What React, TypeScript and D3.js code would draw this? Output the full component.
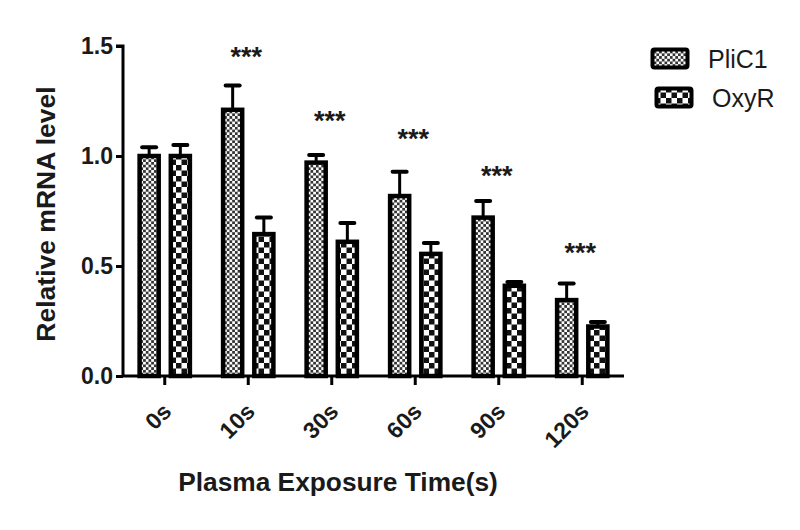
import React, { useRef, useEffect } from "react";
import * as d3 from "d3";

const times = ["0s", "10s", "30s", "60s", "90s", "120s"];
const series = ["PliC1", "OxyR"];
const pliC1 = [1.0, 1.21, 0.97, 0.818, 0.72, 0.345];
const pliC1Err = [0.04, 0.11, 0.035, 0.11, 0.075, 0.075];
const oxyR = [1.0, 0.645, 0.61, 0.555, 0.41, 0.225];
const oxyRErr = [0.05, 0.075, 0.085, 0.05, 0.017, 0.02];
const stars = [null, 1.477, 1.186, 1.105, 0.936, 0.586];
const yTicks = [0, 0.5, 1.0, 1.5];

const W = 800;
const H = 530;
const margin = { left: 123, top: 46, right: 176, bottom: 154 };
const FONT = "Liberation Sans, Arial, sans-serif";
const INK = "#1a1a1a";

export default function App() {
  const svgRef = useRef<SVGSVGElement>(null);

  useEffect(() => {
    const svg = d3.select(svgRef.current);
    svg.selectAll("*").remove();

    const x = d3
      .scaleBand()
      .domain(times)
      .range([margin.left, W - margin.right])
      .paddingInner(0.35)
      .paddingOuter(0.175);
    const xSub = d3.scaleBand().domain(series).range([0, x.bandwidth()]).paddingInner(0.26);
    const y = d3.scaleLinear().domain([0, 1.5]).range([H - margin.bottom, margin.top]);

    const defs = svg.append("defs");
    const fine = defs
      .append("pattern")
      .attr("id", "fine")
      .attr("patternUnits", "userSpaceOnUse")
      .attr("width", 5.4)
      .attr("height", 5.4);
    fine.append("rect").attr("width", 5.4).attr("height", 5.4).attr("fill", "#fff");
    fine.append("rect").attr("width", 2.7).attr("height", 2.7).attr("fill", "#333");
    fine.append("rect").attr("x", 2.7).attr("y", 2.7).attr("width", 2.7).attr("height", 2.7).attr("fill", "#333");

    const coarse = defs
      .append("pattern")
      .attr("id", "coarse")
      .attr("patternUnits", "userSpaceOnUse")
      .attr("width", 11)
      .attr("height", 11);
    coarse.append("rect").attr("width", 11).attr("height", 11).attr("fill", "#fff");
    coarse.append("rect").attr("width", 5.5).attr("height", 5.5).attr("fill", "#111");
    coarse.append("rect").attr("x", 5.5).attr("y", 5.5).attr("width", 5.5).attr("height", 5.5).attr("fill", "#111");

    const fills = ["url(#fine)", "url(#coarse)"];
    const vals = [pliC1, oxyR];
    const errs = [pliC1Err, oxyRErr];

    const g = svg.append("g");
    series.forEach((s, si) => {
      times.forEach((t, i) => {
        const bx = (x(t) as number) + (xSub(s) as number);
        const bw = xSub.bandwidth();
        const v = vals[si][i];
        const e = errs[si][i];
        const cx = bx + bw / 2;
        // upper error bar only
        g.append("line")
          .attr("x1", cx)
          .attr("x2", cx)
          .attr("y1", y(v))
          .attr("y2", y(v + e))
          .attr("stroke", "#000")
          .attr("stroke-width", 3);
        g.append("line")
          .attr("x1", cx - 7)
          .attr("x2", cx + 7)
          .attr("y1", y(v + e))
          .attr("y2", y(v + e))
          .attr("stroke", "#000")
          .attr("stroke-width", 4)
          .attr("stroke-linecap", "round");
        g.append("rect")
          .attr("x", bx + 2)
          .attr("y", y(v))
          .attr("width", bw - 4)
          .attr("height", y(0) - y(v))
          .attr("fill", fills[si])
          .attr("stroke", "#000")
          .attr("stroke-width", 4.5);
      });
    });

    // significance stars
    times.forEach((t, i) => {
      const s = stars[i];
      if (s == null) return;
      g.append("text")
        .attr("x", (x(t) as number) + x.bandwidth() / 2 - 2)
        .attr("y", y(s))
        .attr("dy", "0.55em")
        .attr("text-anchor", "middle")
        .attr("font-family", FONT)
        .attr("font-weight", "bold")
        .attr("font-size", 27)
        .attr("fill", INK)
        .text("***");
    });

    // y axis
    const yAxis = svg
      .append("g")
      .attr("transform", `translate(${margin.left},0)`)
      .call(d3.axisLeft(y).tickValues(yTicks).tickFormat(d3.format(".1f")).tickSize(7).tickPadding(3));
    yAxis.select(".domain").attr("stroke-width", 3).attr("d", `M0,${y(0)}V${y(1.5)}H-7`);
    yAxis.selectAll(".tick line").attr("stroke-width", 3);
    yAxis
      .selectAll(".tick text")
      .attr("font-family", FONT)
      .attr("font-weight", "bold")
      .attr("font-size", 23)
      .attr("fill", INK);

    // x axis
    const xAxis = svg
      .append("g")
      .attr("transform", `translate(0,${y(0)})`)
      .call(d3.axisBottom(x).tickSize(9));
    xAxis.select(".domain").attr("stroke-width", 3).attr("d", `M${margin.left},0H${W - margin.right}`);
    xAxis.selectAll(".tick line").attr("stroke-width", 3);
    xAxis
      .selectAll(".tick text")
      .attr("font-family", FONT)
      .attr("font-weight", "bold")
      .attr("font-size", 23)
      .attr("fill", INK)
      .attr("text-anchor", "end")
      .attr("x", 0)
      .attr("y", 0)
      .attr("dy", 0)
      .attr("transform", "translate(8,37) rotate(-45)");

    // titles
    svg
      .append("text")
      .attr("transform", `translate(55,214) rotate(-90)`)
      .attr("text-anchor", "middle")
      .attr("font-family", FONT)
      .attr("font-weight", "bold")
      .attr("font-size", 26.5)
      .attr("fill", INK)
      .text("Relative mRNA level");
    svg
      .append("text")
      .attr("x", 338)
      .attr("y", 491)
      .attr("text-anchor", "middle")
      .attr("font-family", FONT)
      .attr("font-weight", "bold")
      .attr("font-size", 26.3)
      .attr("fill", INK)
      .text("Plasma Exposure Time(s)");

    // legend
    const lg = svg.append("g").attr("transform", "translate(651,48)");
    series.forEach((s, si) => {
      const row = lg.append("g").attr("transform", `translate(${si * 4},${si * 39})`);
      row
        .append("rect")
        .attr("x", 1.5)
        .attr("y", 1.5)
        .attr("width", 35)
        .attr("height", 18)
        .attr("rx", 2)
        .attr("fill", fills[si])
        .attr("stroke", "#000")
        .attr("stroke-width", 4);
      row
        .append("text")
        .attr("x", 57)
        .attr("y", 20)
        .attr("font-family", FONT)
        .attr("font-size", 25)
        .attr("fill", INK)
        .text(s);
    });
  }, []);

  return (
    <svg ref={svgRef} width={W} height={H} style={{ display: "block", margin: -8, background: "#fff" }} />
  );
}
